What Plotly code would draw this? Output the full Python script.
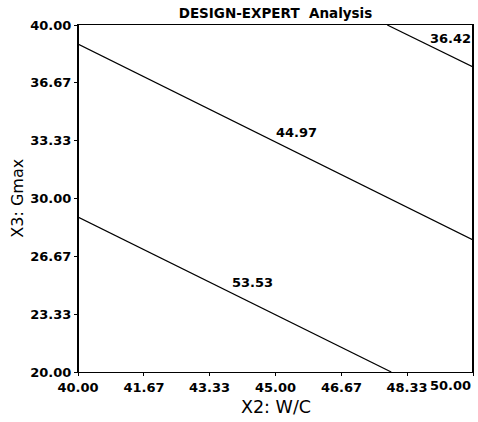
import plotly.graph_objects as go

# Axis ticks
x_ticks = [40.00, 41.67, 43.33, 45.00, 46.67, 48.33, 50.00]
x_tick_labels = ["40.00", "41.67", "43.33", "45.00", "46.67", "48.33", "50.00"]
y_ticks = [20.00, 23.33, 26.67, 30.00, 33.33, 36.67, 40.00]
y_tick_labels = ["20.00", "23.33", "26.67", "30.00", "33.33", "36.67", "40.00"]

# Contour levels and their lines
levels = ["36.42", "44.97", "53.53"]
c1_x = [47.83, 50.00]
c1_y = [40.00, 37.58]
c2_x = [40.00, 50.00]
c2_y = [38.90, 27.61]
c3_x = [40.00, 47.93]
c3_y = [28.93, 20.00]

# Label positions of each contour level
label_x = [50.00, 45.53, 44.42]
label_y = [39.25, 33.78, 25.13]

FONT = "DejaVu Sans"
TICKFONT = dict(family=FONT, size=13, color="black", weight="bold")

fig = go.Figure()
for xs, ys in [(c1_x, c1_y), (c2_x, c2_y), (c3_x, c3_y)]:
    fig.add_trace(go.Scatter(x=xs, y=ys, mode="lines",
                             line=dict(color="black", width=1.2),
                             showlegend=False, hoverinfo="skip", cliponaxis=False))

for i, lab in enumerate(levels):
    fig.add_annotation(x=label_x[i], y=label_y[i], text="<b>%s</b>" % lab,
                       showarrow=False,
                       xanchor="right" if i == 0 else "center",
                       yanchor="middle",
                       font=dict(family=FONT, size=13, color="black"))

axis_common = dict(showgrid=False, zeroline=False, showline=True,
                   linecolor="black", linewidth=1.2, mirror=True,
                   ticks="outside", ticklen=3, tickcolor="black",
                   tickfont=TICKFONT, ticklabeloverflow="allow")

# last x tick label is drawn right-aligned to the axis end, as in the reference
shown_x_text = x_tick_labels[:-1] + [""]
fig.update_xaxes(range=[40, 50], tickvals=x_ticks, ticktext=shown_x_text, **axis_common)
fig.update_yaxes(range=[20, 40], tickvals=y_ticks, ticktext=y_tick_labels, **axis_common)

# thicker left and right frame sides
for xp in (0, 1):
    fig.add_shape(type="line", xref="paper", yref="paper", x0=xp, x1=xp, y0=0, y1=1,
                  line=dict(color="black", width=2), layer="above")

fig.add_annotation(x=x_ticks[-1], yref="paper", y=0, text="<b>%s</b>" % x_tick_labels[-1],
                   showarrow=False, xanchor="right", yanchor="top", yshift=-4,
                   font=dict(family=FONT, size=13, color="black"))

fig.add_annotation(xref="paper", yref="paper", x=0.5, y=-0.101,
                   text="X2: W/C", showarrow=False, xanchor="center", yanchor="middle",
                   font=dict(family=FONT, size=17.5, color="black"))
fig.add_annotation(xref="paper", yref="paper", x=-0.154, y=0.5,
                   text="X3: Gmax", showarrow=False, textangle=-90,
                   xanchor="center", yanchor="middle",
                   font=dict(family=FONT, size=16, color="black"))

fig.update_layout(
    width=478, height=422,
    margin=dict(l=78, r=5, t=25, b=50),
    paper_bgcolor="white", plot_bgcolor="white",
    title=dict(text="<b>DESIGN-EXPERT  Analysis</b>", x=0.5, xref="paper",
               xanchor="center", y=1 - 13/422, yanchor="middle",
               font=dict(family=FONT, size=13.5, color="black")),
)

fig.write_html("out.html", config={"displayModeBar": False},
               post_script=("document.documentElement.style.overflow='hidden';"
                            "document.body.style.margin='0';"
                            "document.body.style.padding='0';"
                            "document.body.style.overflow='hidden';"))
